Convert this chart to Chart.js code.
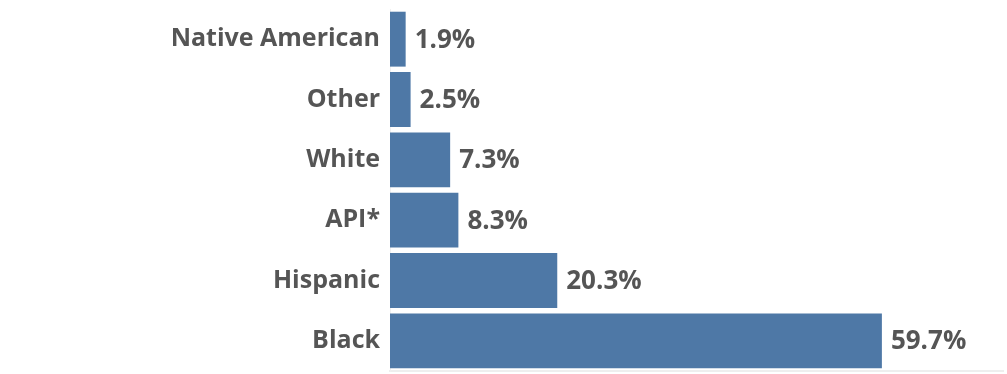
<!DOCTYPE html>
<html>
<head>
<meta charset="utf-8">
<script src="https://cdn.jsdelivr.net/npm/chart.js@4"></script>
<style>
  html, body { margin: 0; padding: 0; background: #fff; }
  #wrap { width: 1007px; height: 374px; }
</style>
</head>
<body>
<div id="wrap"><canvas id="raceChart" width="1007" height="374"></canvas></div>
<script>
const categories = ['Native American', 'Other', 'White', 'API*', 'Hispanic', 'Black'];
const shares = [1.9, 2.5, 7.3, 8.3, 20.3, 59.7];
const valueLabels = ['1.9%', '2.5%', '7.3%', '8.3%', '20.3%', '59.7%'];

const textColor = '#555555';
const barColor = '#4e78a6';

// draws the percentage text just past the end of each bar
const barValueLabels = {
    id: 'barValueLabels',
    afterDatasetsDraw(chart) {
        const c = chart.ctx;
        const meta = chart.getDatasetMeta(0);
        c.save();
        c.font = 'bold 26px "Open Sans"';
        c.fillStyle = textColor;
        c.textBaseline = 'middle';
        c.textAlign = 'left';
        meta.data.forEach((bar, i) => {
            c.fillText(valueLabels[i], bar.x + 9, bar.y + 1);
        });
        c.restore();
    }
};

const ctx = document.getElementById('raceChart').getContext('2d');
new Chart(ctx, {
    type: 'bar',
    data: {
        labels: categories,
        datasets: [{
            data: shares,
            backgroundColor: barColor,
            barPercentage: 0.91,
            categoryPercentage: 1.0
        }]
    },
    options: {
        indexAxis: 'y',
        responsive: false,
        animation: false,
        layout: { padding: { top: 9, bottom: 1, right: 4, left: 0 } },
        plugins: {
            legend: { display: false },
            tooltip: { enabled: false }
        },
        scales: {
            x: {
                min: 0,
                max: 74.4,
                ticks: { display: false },
                grid: { display: false, drawTicks: false },
                border: { display: true, color: '#eeeeee', width: 2 },
                afterFit(scale) { scale.height = 2; }
            },
            y: {
                ticks: {
                    color: textColor,
                    font: { family: 'Open Sans', size: 25, weight: 'bold' },
                    padding: 10
                },
                grid: { display: false, drawTicks: false },
                border: { display: true, color: '#f0f0f0', width: 1 },
                afterFit(scale) {
                    scale.width = 390;
                    // labels sit in band centres, no extra room needed
                    scale.paddingTop = 0;
                    scale.paddingBottom = 0;
                }
            }
        }
    },
    plugins: [barValueLabels]
});
</script>
</body>
</html>
